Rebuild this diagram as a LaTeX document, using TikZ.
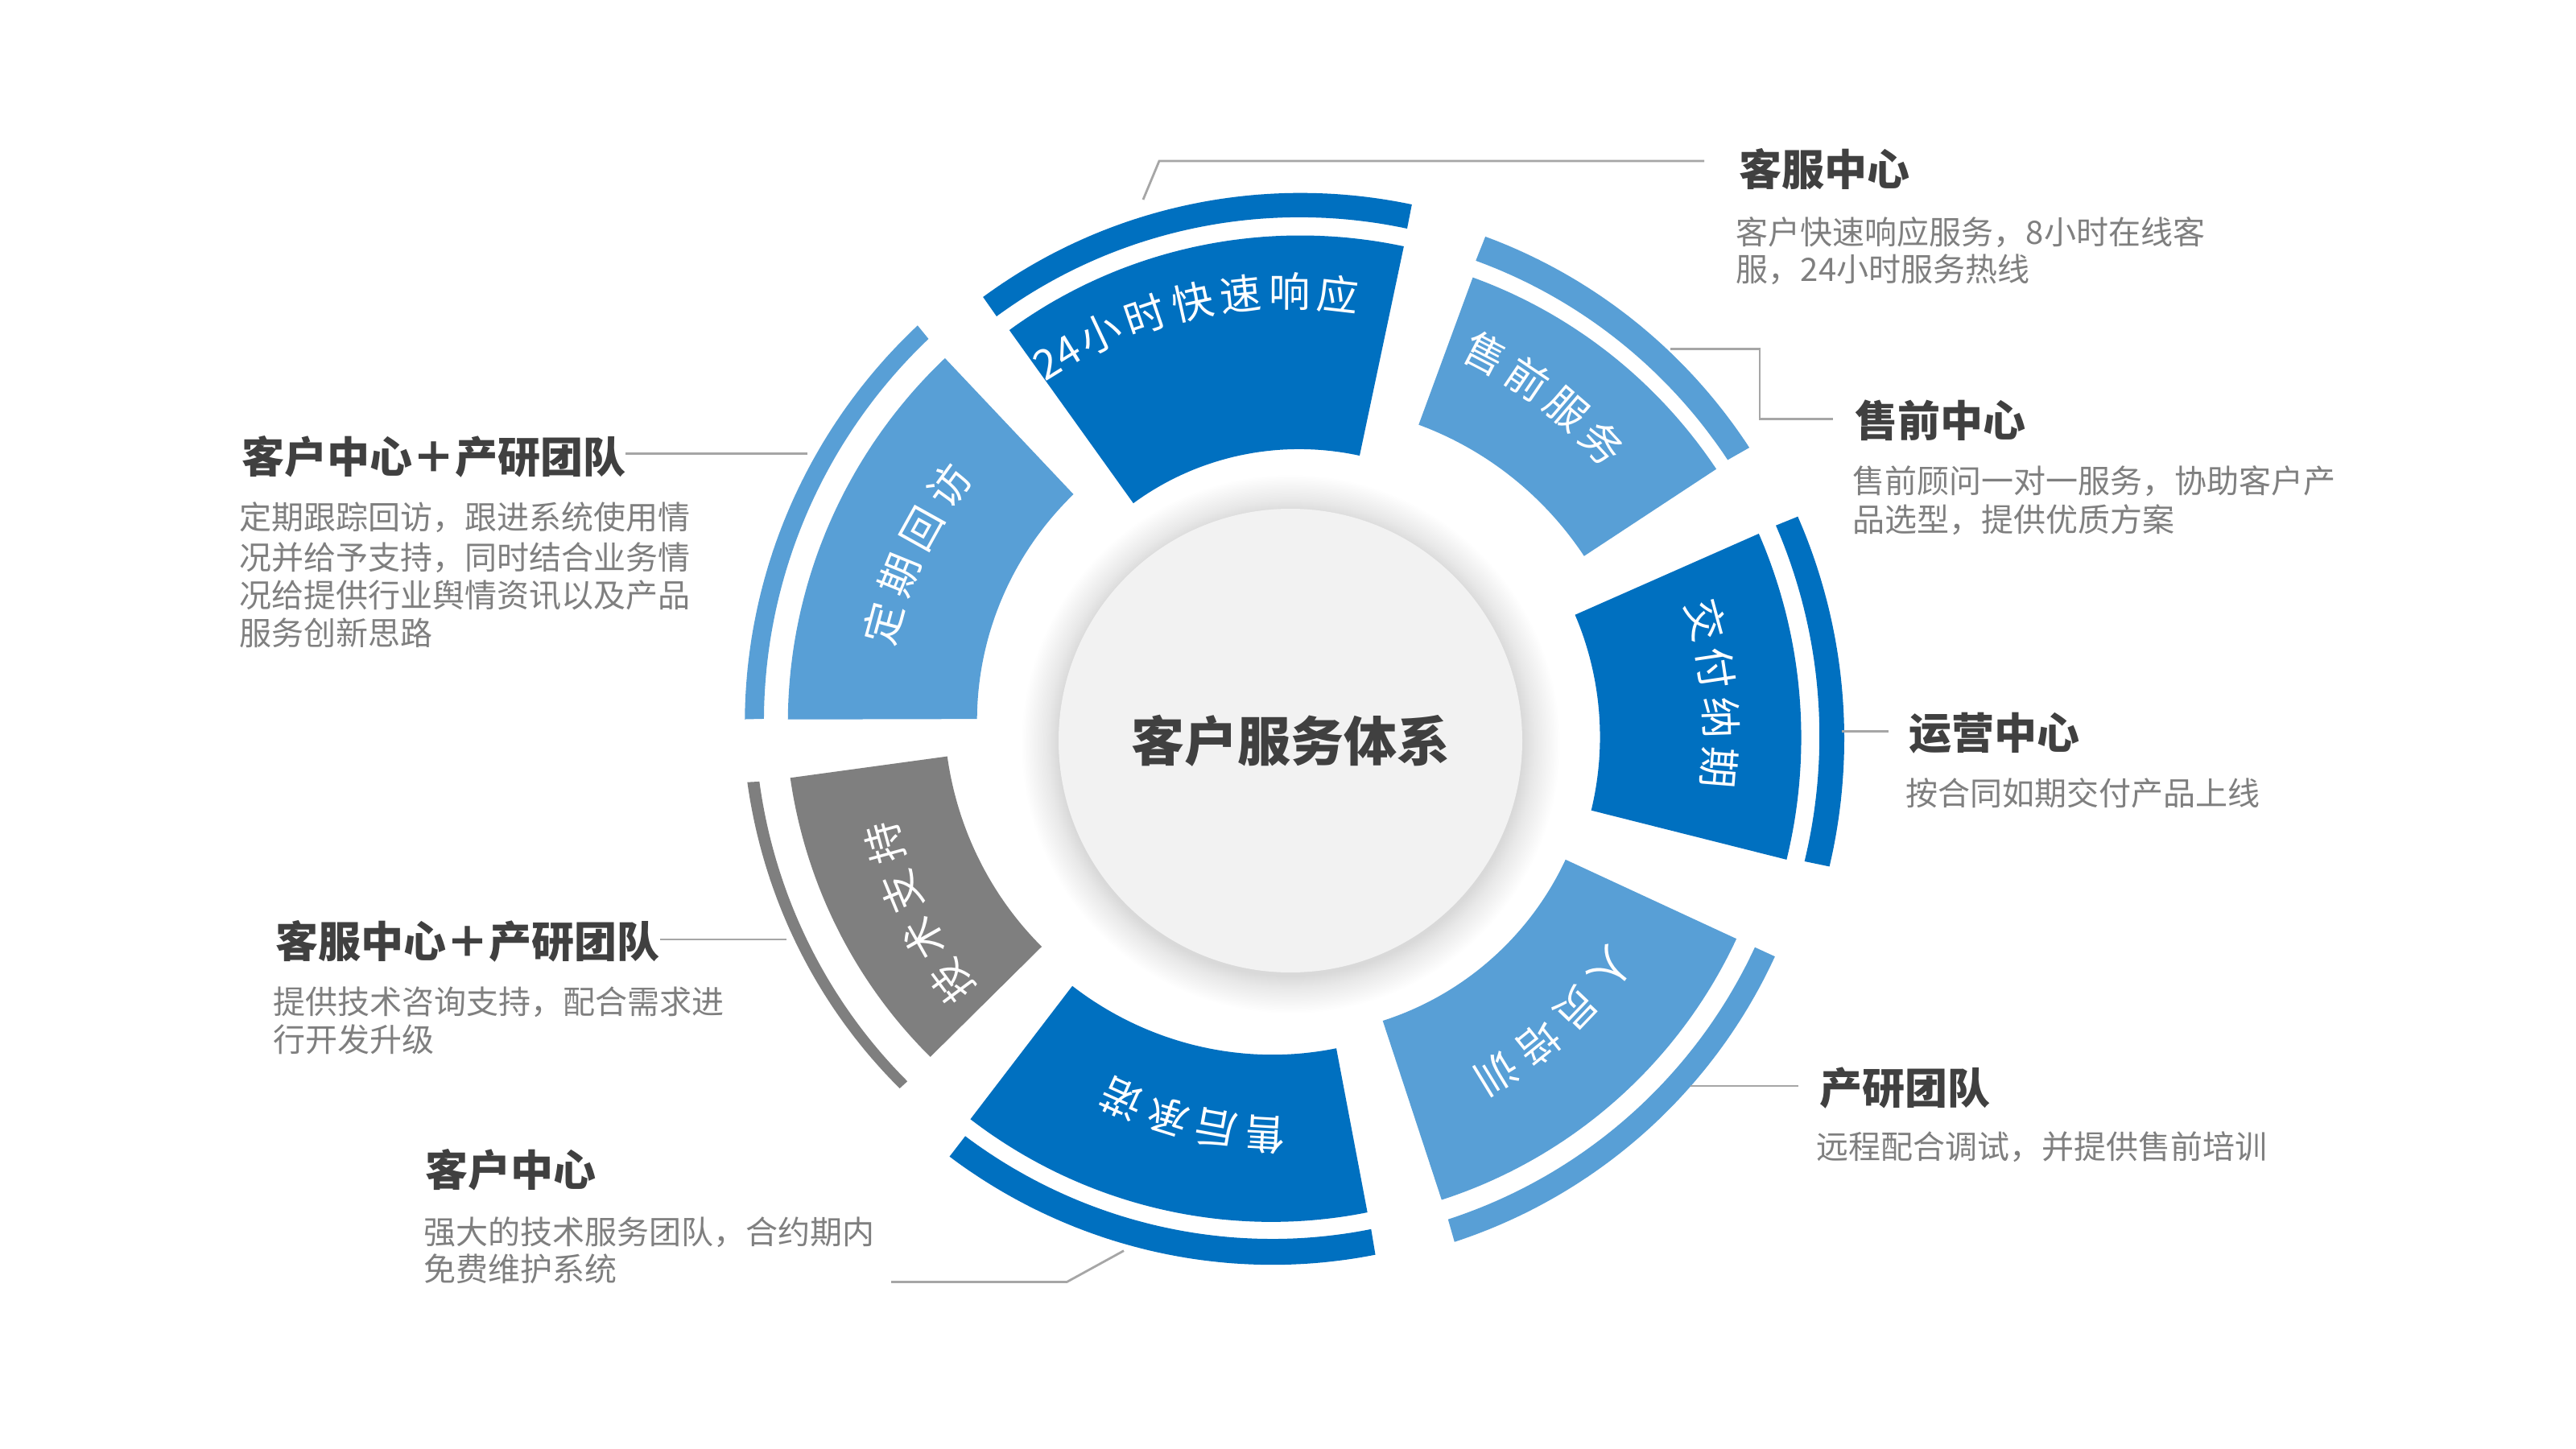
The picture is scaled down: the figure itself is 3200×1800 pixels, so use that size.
\documentclass[tikz,border=0pt]{standalone}
\usepackage{fontspec}
\setmainfont{Noto Sans CJK SC}
\definecolor{dblue}{HTML}{0070C0}
\definecolor{lblue}{HTML}{589FD6}
\definecolor{sgray}{HTML}{7F7F7F}
\definecolor{ttlc}{HTML}{404040}
\definecolor{dscc}{HTML}{7F7F7F}
\definecolor{ldrc}{HTML}{A6A6A6}
\definecolor{cfill}{HTML}{F2F2F2}
\definecolor{shc}{HTML}{D9D9D9}
\pgfdeclareradialshading{cshadow}{\pgfpoint{0bp}{0bp}}{color(0bp)=(shc); color(21.5bp)=(shc); color(22.6bp)=(shc!60!white); color(25bp)=(white); color(50bp)=(white)}
% ring piece: color, outer (angle,r) -> (angle,r), inner (angle,r) -> (angle,r)
\newcommand\ringpiece[9]{%
  \fill[#1] plot[domain=#2:#4, samples=60, variable=\q]
    ({1600+((#3)+((#5)-(#3))*(\q-(#2))/((#4)-(#2)))*cos(\q)},
     {910-((#3)+((#5)-(#3))*(\q-(#2))/((#4)-(#2)))*sin(\q)})
  -- plot[domain=#6:#8, samples=60, variable=\q]
    ({1600+((#7)+((#9)-(#7))*(\q-(#6))/((#8)-(#6)))*cos(\q)},
     {910-((#7)+((#9)-(#7))*(\q-(#6))/((#8)-(#6)))*sin(\q)})
  -- cycle;}
% characters along an arc: prefix, start angle, step, radius, list
\newcommand\arctext[5]{%
  \foreach \ch [count=\i] in {#5}{%
    \pgfmathsetmacro\ang{#2-(\i-1)*(#3)}%
    \node[seglbl, rotate=\ang-90] (#1\i) at ({1600+#4*cos(\ang)},{910-#4*sin(\ang)}) {\ch};
  }}
\begin{document}
\begin{tikzpicture}[x=0.1mm, y=-0.1mm,
  seglbl/.style={text=white, inner sep=0, font=\fontsize{14.6pt}{15pt}\selectfont, text height=12.1pt, text depth=1pt},
  ttlnode/.style={anchor=west, inner sep=0, text=ttlc, font=\bfseries\fontsize{15.08pt}{16pt}\selectfont, text height=12.5pt, text depth=1.05pt},
  dscnode/.style={anchor=west, inner sep=0, text=dscc, font=\fontsize{11.38pt}{12pt}\selectfont, text height=9.45pt, text depth=0.8pt},
  leader/.style={draw=ldrc, line width=0.28mm}]
\useasboundingbox (0,0) rectangle (3200,1800);
\fill[white] (0,0) rectangle (3200,1800);

% ring segments and outer bands
\ringpiece{dblue}{124.7}{608.1}{76.6}{620.9}{75.5}{355.3}{124.0}{343.6}
\ringpiece{dblue}{125.0}{660.5}{76.8}{673.8}{76.7}{643.3}{125.0}{631.2}
\ringpiece{lblue}{67.9}{610.2}{31.6}{624.7}{30.8}{428.2}{67.0}{415.4}
\ringpiece{lblue}{68.3}{663.1}{31.7}{673.6}{31.8}{642.7}{68.3}{630.9}
\ringpiece{dblue}{22.9}{634.9}{-14.3}{639.2}{-14.4}{388.9}{22.3}{385.4}
\ringpiece{dblue}{22.96}{687.8}{-13.9}{692.9}{-14.0}{661.3}{23.0}{658.4}
\ringpiece{lblue}{-24.7}{613.2}{-71.8}{611.1}{-71.8}{376.9}{-24.6}{379.2}
\ringpiece{lblue}{-24.7}{665.8}{-71.9}{665.7}{-71.8}{636.6}{-24.7}{638.4}
\ringpiece{dblue}{-80.6}{604.2}{-129.4}{621.6}{-130.4}{413.4}{-81.3}{396.8}
\ringpiece{dblue}{-80.5}{657.7}{-128.6}{674.0}{-128.65}{642.0}{-80.5}{625.5}
\ringpiece{sgray}{222.2}{599.8}{185.2}{620.9}{184.0}{424.3}{221.0}{405.4}
\ringpiece{sgray}{222.5}{654.3}{185.25}{674.5}{185.3}{659.5}{222.5}{641.3}
\ringpiece{lblue}{178.5}{621.5}{132.5}{630.8}{132.0}{398.3}{177.5}{386.7}
\ringpiece{lblue}{178.6}{675.0}{132.3}{683.7}{132.4}{662.3}{178.5}{651.3}

% segment labels
\arctext{la}{121.6}{6.36}{548}{24,小,时,快,速,响,应}
\arctext{lb}{62.5}{6.6}{531}{售,前,服,务}
\arctext{lc}{15.1}{6.57}{538}{交,付,纳,期}
\arctext{ld}{-36.3}{7.4}{497}{人,员,培,训}
\arctext{le}{-93.3}{7.0}{500}{售,后,承,诺}
\arctext{lf}{216.6}{7.1}{520}{技,术,支,持}
\arctext{lg}{164.9}{7.0}{521}{定,期,回,访}

% hub with soft shadow
\shade[shading=cshadow] (1603,924) circle[radius=33.5mm];
\node[circle, fill=cfill, minimum size=57.6mm, inner sep=0, text=ttlc,
  font=\bfseries\fontsize{18.78pt}{20pt}\selectfont, text height=15.6pt, text depth=1.3pt] (hub) at (1603,920) {客户服务体系};

% titles
\node[ttlnode] (t1) at (2160,210.6) {客服中心};
\node[ttlnode] (t2) at (2303.7,522.4) {售前中心};
\node[ttlnode] (t3) at (2370.3,910.4) {运营中心};
\node[ttlnode] (t4) at (2259.5,1351.6) {产研团队};
\node[ttlnode] (t5) at (528,1453) {客户中心};
\node[ttlnode] (t6) at (342,1169) {客服中心＋产研团队};
\node[ttlnode] (t7) at (300,567) {客户中心＋产研团队};

% descriptions
\node[dscnode] (d1a) at (2156.2,288.5) {客户快速响应服务，8小时在线客};
\node[dscnode] (d1b) at (2156.2,334.1) {服，24小时服务热线};
\node[dscnode] (d2a) at (2300.9,597.8) {售前顾问一对一服务，协助客户产};
\node[dscnode] (d2b) at (2300.9,645) {品选型，提供优质方案};
\node[dscnode] (d3) at (2366.9,985) {按合同如期交付产品上线};
\node[dscnode] (d4) at (2255.5,1424.5) {远程配合调试，并提供售前培训};
\node[dscnode] (d5a) at (525.7,1530.2) {强大的技术服务团队，合约期内};
\node[dscnode] (d5b) at (525.7,1575.8) {免费维护系统};
\node[dscnode] (d6a) at (339,1244) {提供技术咨询支持，配合需求进};
\node[dscnode] (d6b) at (339,1291.7) {行开发升级};
\node[dscnode] (d7a) at (297,642.8) {定期跟踪回访，跟进系统使用情};
\node[dscnode] (d7b) at (297,691.9) {况并给予支持，同时结合业务情};
\node[dscnode] (d7c) at (297,738.9) {况给提供行业舆情资讯以及产品};
\node[dscnode] (d7d) at (297,786.6) {服务创新思路};

% leader lines
\coordinate (k1a) at (1420,248);
\coordinate (k1b) at (1440,200);
\coordinate (k1c) at (2117,200);
\draw[leader] (k1a) -- (k1b) -- (k1c);
\coordinate (k2a) at (2075,433.6);
\coordinate (k2b) at (2186,433.6);
\coordinate (k2c) at (2186,520.7);
\coordinate (k2d) at (2277,520.7);
\draw[leader] (k2a) -- (k2b) -- (k2c) -- (k2d);
\coordinate (k3a) at (2288,908.8);
\coordinate (k3b) at (2345.6,908.8);
\draw[leader] (k3a) -- (k3b);
\coordinate (k4a) at (2099.7,1349);
\coordinate (k4b) at (2233.7,1349);
\draw[leader] (k4a) -- (k4b);
\coordinate (k5a) at (1396,1553.7);
\coordinate (k5b) at (1325.3,1592.5);
\coordinate (k5c) at (1107,1592.5);
\draw[leader] (k5a) -- (k5b) -- (k5c);
\coordinate (k6a) at (976.7,1167);
\draw[leader] (k6a) -- (k6a -| t6.east);
\coordinate (k7a) at (1003,563.5);
\coordinate (k7b) at (776.6,563.5);
\draw[leader] (k7a) -- (k7b);
\end{tikzpicture}
\end{document}
